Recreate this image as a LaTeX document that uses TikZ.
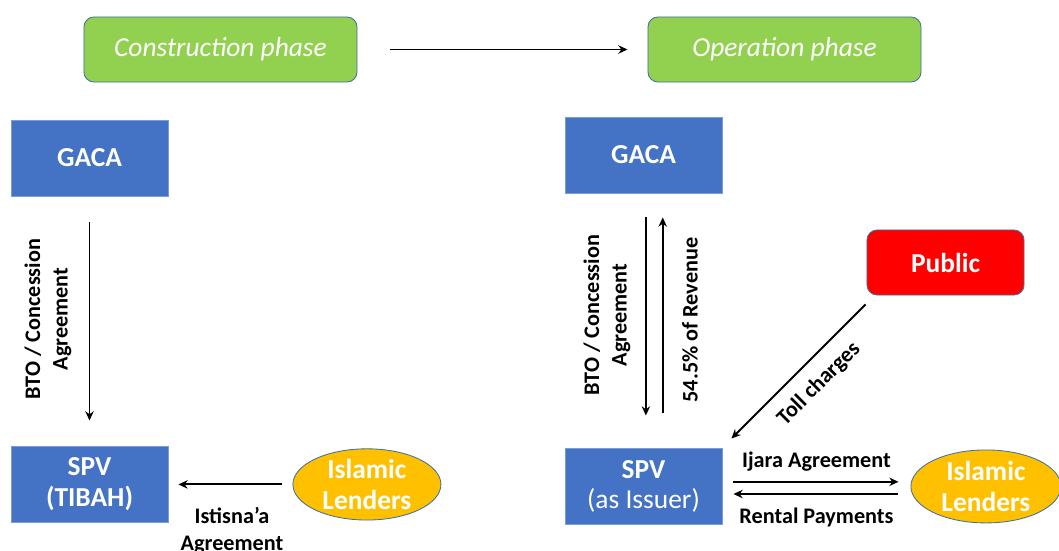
\documentclass[tikz,border=0pt]{standalone}
\usepackage{fontspec}
\setmainfont{Carlito}
\usepackage{tikz}
\usetikzlibrary{positioning}
\usetikzlibrary{arrows.meta}
\usetikzlibrary{shapes.geometric}
\usepackage{xcolor}

\definecolor{boxblue}{HTML}{4472C4}
\definecolor{phasegreen}{HTML}{92D050}
\definecolor{publicred}{HTML}{FF0000}
\definecolor{lendyellow}{HTML}{FFC000}
\definecolor{edgeblue}{HTML}{41719C}

\begin{document}
\begin{tikzpicture}[x=0.025cm, y=-0.025cm, >={Stealth[length=2.3mm, width=2.1mm]},
    phasebox/.style={draw=edgeblue, line width=0.6pt, rectangle, rounded corners=0.25cm, fill=phasegreen, text=white,
        minimum width=6.825cm, minimum height=1.625cm, font=\fontsize{19.5}{22}\selectfont\itshape},
    partybox/.style={draw=boxblue!70!white, line width=0.6pt, rectangle, fill=boxblue, text=white, align=center,
        minimum width=3.925cm, minimum height=1.9cm, font=\fontsize{19.5}{22}\selectfont\bfseries},
    publicbox/.style={partybox, draw=edgeblue, rounded corners=0.25cm, fill=publicred, minimum height=1.625cm},
    lenderoval/.style={draw=edgeblue, line width=0.6pt, ellipse, inner sep=0pt, fill=lendyellow, text=white, align=center,
        font=\fontsize{19.5}{22}\selectfont\bfseries},
    flow/.style={->, line width=1.4pt},
    flowlabel/.style={align=center, font=\fontsize{15.8}{19.5}\selectfont\bfseries}]

    \useasboundingbox (0,0) rectangle (1059,551);

    % Phases
    \node (construct) [phasebox] at (220.5,49.5) {Construction phase};
    \node (operate) [phasebox] at (784.5,49.5) {Operation phase};
    \draw[flow, shorten <=0.825cm, shorten >=0.5cm] (construct.east) -- (operate.west);

    % Construction phase
    \node (gacaA) [partybox] at (89.5,158) {GACA};
    \node (spvA) [partybox, below=6.25cm of gacaA, minimum height=1.875cm] {SPV\\(TIBAH)};
    \node (lendA) [lenderoval, right=3.1cm of spvA, minimum width=3.7cm, minimum height=1.75cm] {Islamic\\Lenders};

    \draw[flow, shorten <=0.65cm, shorten >=0.65cm] (gacaA) -- (spvA);
    \node (btoA) [flowlabel, rotate=90] at (48,319) {BTO / Concession\\Agreement};
    \draw[flow, shorten <=0.25cm, shorten >=0.25cm] (lendA) -- (spvA);
    \node (istisna) [flowlabel] at (232,531) {Istisna’a\\Agreement};

    % Operation phase
    \node (gacaB) [partybox] at (643.5,155) {GACA};
    \node (spvB) [partybox, below=6.375cm of gacaB, minimum height=1.875cm] {SPV\\\mdseries(as Issuer)};
    \node (lendB) [lenderoval, right=4.7cm of spvB, minimum width=3.75cm, minimum height=1.825cm] {Islamic\\Lenders};
    \node (public) [publicbox] at (945.5,262.5) {Public};

    \draw[flow, shorten <=0.6cm, shorten >=0.825cm] ([xshift=0.06cm]gacaB.south) -- ([xshift=0.06cm]gacaB.south |- spvB.north);
    \draw[flow, shorten <=0.875cm, shorten >=0.6cm] ([xshift=0.48cm]gacaB.south |- spvB.north) -- ([xshift=0.48cm]gacaB.south);
    \node (btoB) [flowlabel, rotate=90] at (607,315) {BTO / Concession\\Agreement};
    \node (revenue) [flowlabel, rotate=90] at (690,320) {54.5\% of Revenue};

    \draw[flow] ([xshift=-0.025cm, yshift=-0.225cm]public.south west) -- ([xshift=0.225cm, yshift=0.25cm]spvB.north east);
    \node (toll) [flowlabel, rotate=45] at (819,384) {Toll charges};

    \draw[flow, shorten <=0.275cm, shorten >=0.3cm] ([yshift=0.115cm]spvB.east) -- node[above=3.5pt, flowlabel] {Ijara Agreement} ([yshift=0.115cm]lendB.west);
    \draw[flow, shorten <=0.3cm, shorten >=0.275cm] ([yshift=-0.19cm]lendB.west) -- node[below=6pt, flowlabel] {Rental Payments} ([yshift=-0.19cm]spvB.east);
\end{tikzpicture}
\end{document}
